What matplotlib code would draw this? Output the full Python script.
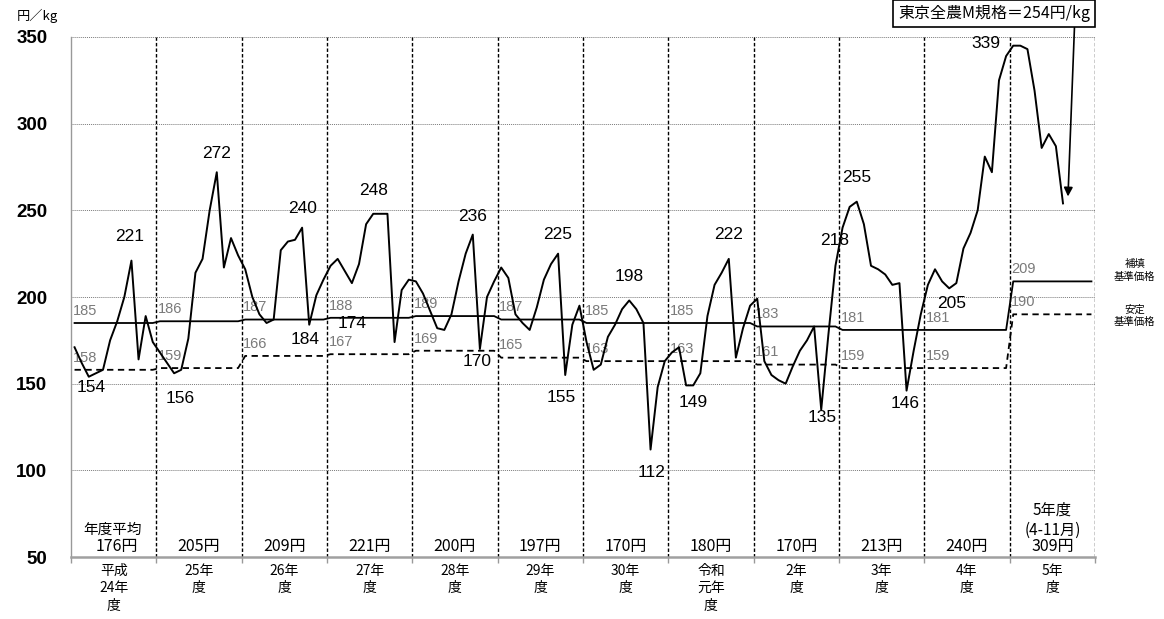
import matplotlib
matplotlib.use("Agg")
import matplotlib.pyplot as plt
import numpy as np

plt.rcParams["font.family"] = ["Liberation Sans", "Noto Sans CJK JP", "DejaVu Sans"]
JP = ["Noto Sans CJK JP", "DejaVu Sans"]

# fiscal years (April - March)
fy_ticks = ["平成\n24年\n度", "25年\n度", "26年\n度", "27年\n度", "28年\n度", "29年\n度",
            "30年\n度", "令和\n元年\n度", "2年\n度", "3年\n度", "4年\n度", "5年\n度"]
fy_avg = [176, 205, 209, 221, 200, 197, 170, 180, 170, 213, 240, 309]

# 補填基準価格 / 安定基準価格 per fiscal year
hoten_base = [185, 186, 187, 188, 189, 187, 185, 185, 183, 181, 181, 209]
antei_base = [158, 159, 166, 167, 169, 165, 163, 163, 161, 159, 159, 190]

# monthly Tokyo M-size price (yen/kg), April 2012 - November 2023
price = [
    171, 162, 154, 156, 158, 175, 186, 200, 221, 164, 189, 174,   # H24
    168, 162, 156, 158, 176, 214, 222, 250, 272, 217, 234, 224,   # H25
    216, 200, 190, 185, 187, 227, 232, 233, 240, 184, 201, 210,   # H26
    218, 222, 215, 208, 219, 242, 248, 248, 248, 174, 204, 210,   # H27
    209, 202, 192, 182, 181, 190, 209, 225, 236, 170, 200, 209,   # H28
    217, 211, 190, 185, 181, 194, 210, 219, 225, 155, 184, 195,   # H29
    174, 158, 161, 177, 184, 193, 198, 193, 185, 112, 148, 163,   # H30
    168, 171, 149, 149, 156, 189, 207, 214, 222, 165, 182, 195,   # R1
    199, 163, 155, 152, 150, 160, 169, 175, 183, 135, 178, 218,   # R2
    240, 252, 255, 242, 218, 216, 213, 207, 208, 146, 169, 190,   # R3
    207, 216, 209, 205, 208, 228, 237, 250, 281, 272, 325, 339,   # R4
    345, 345, 343, 319, 286, 294, 287, 254,                       # R5 (Apr-Nov)
]

# yearly highs / lows written on the chart
extreme_values = [221, 154, 272, 156, 240, 184, 248, 174, 236, 170, 225, 155,
                  198, 112, 222, 149, 135, 218, 255, 146, 205, 339]
extreme_xy = [(8.3, 235), (2.9, 147.5), (20.4, 282.5), (15.3, 141.7), (32.5, 251.3),
              (32.9, 175.2), (42.5, 261.7), (39.5, 185), (56.5, 246.2), (57.1, 162.5),
              (68.5, 235.8), (68.9, 142.3), (78.5, 212.1), (81.6, 99), (92.4, 235.8),
              (87.5, 139.4), (105.6, 130.2), (107.4, 232.5), (110.5, 269.2),
              (117.3, 138.8), (123.8, 196), (128.6, 346.5)]

fig = plt.figure(figsize=(11.64, 6.19), dpi=100)
ax = fig.add_axes([71 / 1164, 62 / 619, 1024 / 1164, 520 / 619])

n_years = len(fy_ticks)
ax.set_xlim(0, 12 * n_years)
ax.set_ylim(50, 350)

# grid
for v in range(100, 351, 50):
    ax.axhline(v, color="#7a7a7a", lw=0.7, ls=(0, (1, 1)), zorder=1)
for i in range(1, n_years + 1):
    ax.axvline(12 * i, color="black", lw=1.0, ls=(0, (2.5, 1.5)), zorder=1)

# reference price steps
hx, hy, ay = [], [], []
for i in range(n_years):
    hx += [12 * i + 0.5, 12 * i + 11.5]
    hy += [hoten_base[i]] * 2
    ay += [antei_base[i]] * 2
ax.plot(hx, hy, color="black", lw=1.3, zorder=2)
ax.plot(hx, ay, color="black", lw=1.3, ls=(0, (3.5, 2.5)), zorder=2)
for i in range(n_years):
    ax.text(12 * i + 0.2, hoten_base[i] + 3, str(hoten_base[i]), fontsize=10.5,
            color="#7a7a7a", ha="left", va="bottom", zorder=3)
    ax.text(12 * i + 0.2, antei_base[i] + 3, str(antei_base[i]), fontsize=10.5,
            color="#7a7a7a", ha="left", va="bottom", zorder=3)

# monthly price line
months = np.arange(len(price)) + 0.5
ax.plot(months, price, color="black", lw=1.4, zorder=4)

for val, (x, y) in zip(extreme_values, extreme_xy):
    ax.text(x, y, str(val), fontsize=12.5, ha="center", va="center", zorder=5)

# yearly averages
ax.text(5.9, 65.6, "年度平均", family=JP, fontsize=10.5, ha="center", va="center")
for i, avg in enumerate(fy_avg):
    ax.text(12 * i + 6 + (0.5 if i == 0 else 0), 55.8, f"{avg}円",
            family=JP, fontsize=11.5, ha="center", va="center")
ax.text(12 * 11 + 6, 77.1, "5年度", family=JP, fontsize=11, ha="center", va="center")
ax.text(12 * 11 + 6, 65.6, "(4-11月)", family=JP, fontsize=11, ha="center", va="center")

# legend-like labels on the right
ax.text(149.6, 215.3, "補填\n基準価格", family=JP, fontsize=7.5, ha="center", va="center",
        linespacing=1.25, clip_on=False)
ax.text(149.6, 189, "安定\n基準価格", family=JP, fontsize=7.5, ha="center", va="center",
        linespacing=1.25, clip_on=False)

# callout
ax.annotate("東京全農M規格＝254円/kg", xy=(140.2, 258), xytext=(129.8, 363.5),
            family=JP, fontsize=11.5, ha="center", va="center", annotation_clip=False,
            bbox=dict(boxstyle="square,pad=0.3", fc="white", ec="black", lw=1.2),
            arrowprops=dict(arrowstyle="-|>", color="black", lw=1.2, relpos=(0.92, 0),
                            mutation_scale=13, shrinkA=0, shrinkB=0),
            zorder=6)

# axes styling
ax.set_yticks(range(50, 351, 50))
ax.set_yticklabels([str(v) for v in range(50, 351, 50)], fontsize=13.5, fontweight="bold")
ax.tick_params(axis="y", length=0, pad=17)
ax.set_xticks([12 * i + 6 for i in range(n_years)])
ax.set_xticklabels(fy_ticks, family=JP, fontsize=10, linespacing=1.3)
ax.set_xticks([12 * i for i in range(n_years + 1)], minor=True)
ax.tick_params(axis="x", which="major", length=0, pad=5)
ax.tick_params(axis="x", which="minor", length=4, color="#999999", width=1)
for s in ("top", "right"):
    ax.spines[s].set_visible(False)
ax.spines["left"].set_color("#999999")
ax.spines["left"].set_linewidth(1.0)
ax.spines["bottom"].set_color("#a0a0a0")
ax.spines["bottom"].set_linewidth(1.8)

fig.text(17 / 1164, 1 - 16 / 619, "円／kg", family=JP, fontsize=9.5, ha="left", va="center")

fig.savefig("out.png", dpi=100)
